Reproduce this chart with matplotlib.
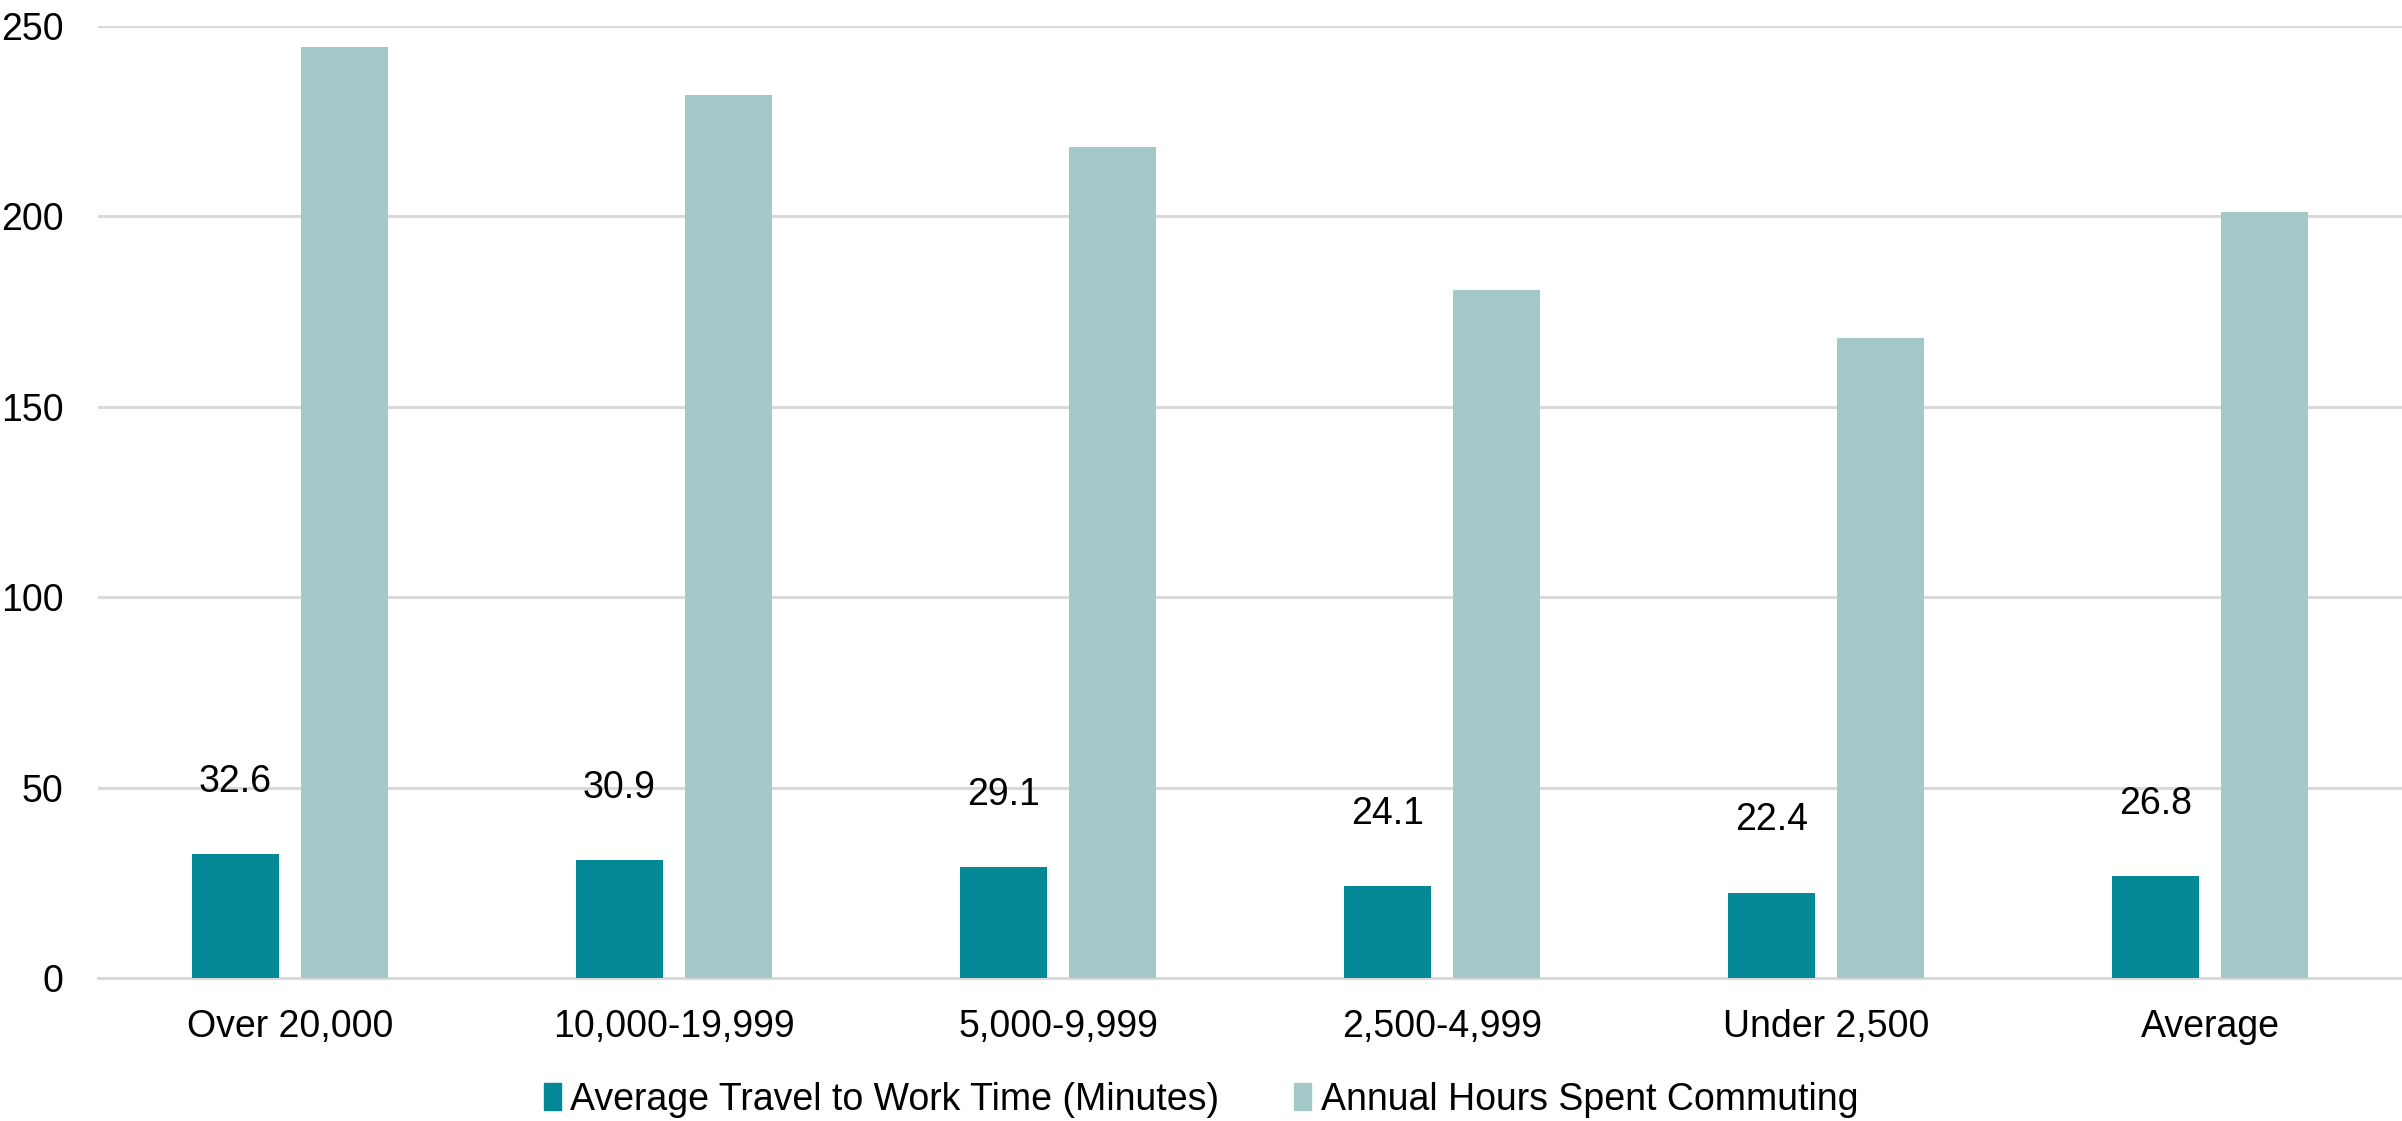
import matplotlib
matplotlib.use("Agg")
import matplotlib.pyplot as plt
from matplotlib.patches import Patch
import numpy as np

# chart data
categories = ["Over 20,000", "10,000-19,999", "5,000-9,999", "2,500-4,999", "Under 2,500", "Average"]
travel_minutes = [32.6, 30.9, 29.1, 24.1, 22.4, 26.8]
annual_hours = [244.5, 231.75, 218.25, 180.75, 168.0, 201.0]
series_names = ["Average Travel to Work Time (Minutes)", "Annual Hours Spent Commuting"]
y_ticks = [0, 50, 100, 150, 200, 250]

DARK = "#038896"
LIGHT = "#a2c8c8"
GRID = "#d9d9d9"

plt.rcParams['font.family'] = ['Liberation Sans Narrow', 'Liberation Sans', 'DejaVu Sans']
FS = 27

fig = plt.figure(figsize=(24.02, 11.21), dpi=100)
ax = fig.add_axes([0.0408, 0.1276, 0.9592, 0.8494])

x = np.arange(len(categories))
w = 0.227
off = 0.1425
ax.bar(x - off, travel_minutes, width=w, color=DARK, zorder=3)
ax.bar(x + off, annual_hours, width=w, color=LIGHT, zorder=3)

for xi, v in zip(x, travel_minutes):
    ax.annotate(f"{v:.1f}", (xi - off, v), xytext=(0, 52), textcoords="offset points",
                ha="center", va="center", fontsize=FS, color="black")

ax.set_xlim(-0.5, len(categories) - 0.5)
ax.set_ylim(0, 250)
ax.set_yticks(y_ticks)
ax.set_xticks(x)
ax.set_xticklabels(categories)
ax.tick_params(axis="both", length=0, labelsize=FS, colors="black")
ax.tick_params(axis="y", pad=25)
ax.tick_params(axis="x", pad=22)
ax.yaxis.grid(True, color=GRID, linewidth=2.2, zorder=0)
ax.set_axisbelow(True)
for s in ["top", "right", "left"]:
    ax.spines[s].set_visible(False)
ax.spines["bottom"].set_color(GRID)
ax.spines["bottom"].set_linewidth(2.2)

handles = [Patch(color=DARK), Patch(color=LIGHT)]
fig.legend(handles, series_names, loc="center", bbox_to_anchor=(0.5, 0.019), ncol=2,
           frameon=False, fontsize=FS, handlelength=0.45, handleheight=0.7,
           handletextpad=0.25, columnspacing=2.0)

fig.savefig("out.png", dpi=100)
